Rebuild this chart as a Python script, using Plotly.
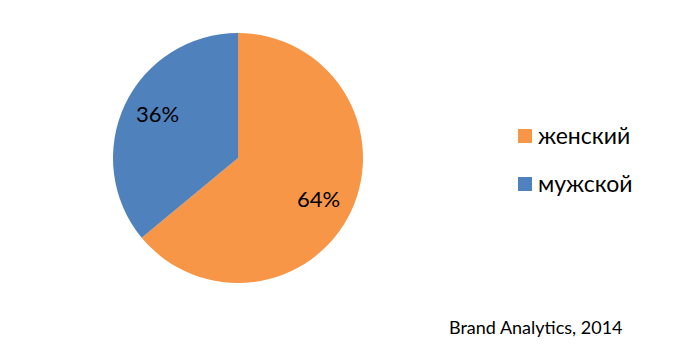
import math
import plotly.graph_objects as go

labels = ["женский", "мужской"]
values = [64, 36]
colors = ["#F79646", "#4F81BD"]
source = "Brand Analytics, 2014"

W, H = 686, 360
cx, cy, r = 238, 158, 125
FONT = "Lato, 'Noto Sans', sans-serif"

fig = go.Figure(go.Pie(
    labels=labels, values=values, sort=False, direction="clockwise", rotation=0,
    marker=dict(colors=colors, line=dict(width=0)),
    textinfo="none", hoverinfo="label+percent",
    domain=dict(x=[(cx - r) / W, (cx + r) / W], y=[(H - cy - r) / H, (H - cy + r) / H]),
    showlegend=False,
))

annotations = []
shapes = []
total = sum(values)
cum = 0
for v in values:
    mid = (cum + v / 2) / total * 2 * math.pi
    cum += v
    px = cx + 0.71 * r * math.sin(mid)
    py = cy - 0.79 * r * math.cos(mid) - 2
    annotations.append(dict(x=px / W, y=(H - py) / H, xref="paper", yref="paper",
                            xanchor="center", yanchor="middle",
                            text=f"{round(v / total * 100)}%", showarrow=False,
                            font=dict(size=22, color="black", family=FONT)))

# legend (manual, for Excel-like spacing)
leg_x, leg_y0, leg_dy, sq = 518, 136, 48, 14
for i, (lab, col) in enumerate(zip(labels, colors)):
    yc = leg_y0 + i * leg_dy
    shapes.append(dict(type="rect", xref="paper", yref="paper",
                       x0=leg_x / W, x1=(leg_x + sq) / W,
                       y0=(H - yc - sq / 2) / H, y1=(H - yc + sq / 2) / H,
                       fillcolor=col, line=dict(width=0)))
    annotations.append(dict(x=(leg_x + sq + 4) / W, y=(H - yc + 1) / H, xref="paper", yref="paper",
                            xanchor="left", yanchor="middle", text=lab, showarrow=False,
                            font=dict(size=23, color="black", family=FONT)))

annotations.append(dict(x=625 / W, y=(H - 327) / H, xref="paper", yref="paper",
                        xanchor="right", yanchor="middle", text=source, showarrow=False,
                        font=dict(size=18, color="black", family=FONT)))

fig.update_layout(
    width=W, height=H, margin=dict(l=0, r=0, t=0, b=0),
    paper_bgcolor="white", plot_bgcolor="white",
    showlegend=False,
    annotations=annotations, shapes=shapes,
)
fig.write_html("out.html")
